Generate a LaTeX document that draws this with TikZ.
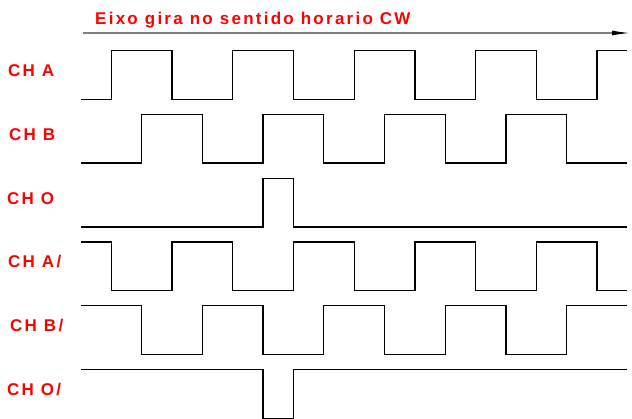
\documentclass[tikz,border=0pt]{standalone}
\usepackage{fontspec}
\newfontfamily\chfont[LetterSpace=13.3]{Liberation Sans}
\usetikzlibrary{arrows.meta}
\tikzset{lbl/.style={text=red, font=\chfont\bfseries\fontsize{17}{20}\selectfont, inner sep=0pt, anchor=base west}}
\tikzset{wave/.style={line width=1.3pt, line join=miter}}

\begin{document}
\begin{tikzpicture}[x=1pt,y=-1pt]
\useasboundingbox (0,0) rectangle (632,418);
\node[lbl] (title) at (95,24) {Eixo gira no sentido horario CW};
\coordinate (dirS) at (83,33);
\coordinate (dirE) at (630,33);
\draw[gray, line width=1.2pt, -{Latex[length=18pt,width=5pt,black]}] (dirS) -- (dirE);
% channel names
\node[lbl] (chA) at (8,76) {CH A};
\node[lbl] (chB) at (9,140) {CH B};
\node[lbl] (chO) at (7,204) {CH O};
\node[lbl] (chAn) at (8,267) {CH A/};
\node[lbl] (chBn) at (10,331) {CH B/};
\node[lbl] (chOn) at (7,395) {CH O/};
\begin{scope}[xshift=81pt, x=30.35pt]
% CH A
\draw[wave] (0,99.3) \foreach \k in {1,5,9,13} {-- (\k,99.3) -- (\k,50.7) -- (\k+2,50.7) -- (\k+2,99.3)} -- (17,99.3) -- (17,50.7) -- (18,50.7);
% CH B
\draw[wave] (0,163) \foreach \k in {2,6,10,14} {-- (\k,163) -- (\k,114.5) -- (\k+2,114.5) -- (\k+2,163)} -- (18,163);
% CH O
\draw[wave] (0,227) -- (6,227) -- (6,178.3) -- (7,178.3) -- (7,227) -- (18,227);
% CH A/
\draw[wave] (0,242) \foreach \k in {1,5,9,13} {-- (\k,242) -- (\k,290.7) -- (\k+2,290.7) -- (\k+2,242)} -- (17,242) -- (17,290.7) -- (18,290.7);
% CH B/
\draw[wave] (0,305.8) \foreach \k in {2,6,10,14} {-- (\k,305.8) -- (\k,354.7) -- (\k+2,354.7) -- (\k+2,305.8)} -- (18,305.8);
% CH O/
\draw[wave] (0,369.7) -- (6,369.7) -- (6,418.5) -- (7,418.5) -- (7,369.7) -- (18,369.7);
\end{scope}
\end{tikzpicture}
\end{document}
